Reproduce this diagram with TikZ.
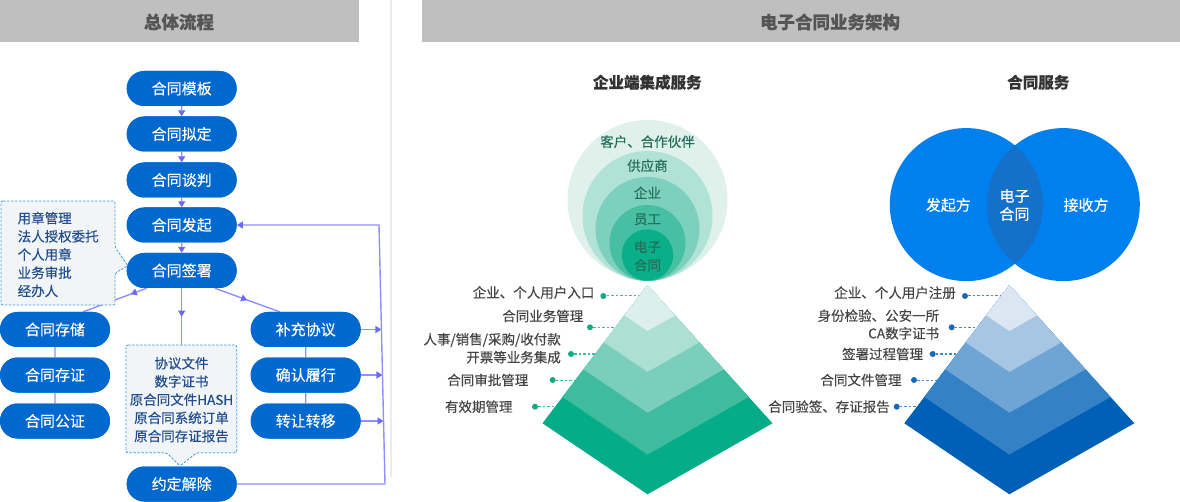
\documentclass[tikz,border=0pt]{standalone}
\usepackage{fontspec}
\setmainfont{Noto Sans CJK SC}[FakeBold=0.35]
\usetikzlibrary{arrows.meta,decorations.markings,calc,shapes.misc}
\definecolor{boxblue}{HTML}{0068CE}
\definecolor{linep}{HTML}{8F8FFF}
\definecolor{tipp}{HTML}{6A6AF2}
\definecolor{headgray}{HTML}{BFBFBF}
\definecolor{headtext}{HTML}{555555}
\definecolor{cofill}{HTML}{F2F5F8}
\definecolor{coline}{HTML}{3D9BDA}
\definecolor{cotext}{HTML}{234E8C}
\definecolor{g1}{HTML}{DDEFEA}
\definecolor{g2}{HTML}{ABE0D3}
\definecolor{g3}{HTML}{7ACEBB}
\definecolor{g4}{HTML}{3FBC9E}
\definecolor{g5}{HTML}{04AD87}
\definecolor{b1}{HTML}{DAE7F2}
\definecolor{b2}{HTML}{A6C6E4}
\definecolor{b3}{HTML}{6FA5D5}
\definecolor{b4}{HTML}{3581C6}
\definecolor{b5}{HTML}{0060B8}
\definecolor{c1}{HTML}{E0F1EC}
\definecolor{c2}{HTML}{B0E2D5}
\definecolor{c3}{HTML}{7DD0BD}
\definecolor{c4}{HTML}{46BFA2}
\definecolor{c5}{HTML}{0AAE89}
\definecolor{ctext}{HTML}{246F5A}
\definecolor{venn}{HTML}{0080EE}
\definecolor{vennmid}{HTML}{1470C8}
\definecolor{labtext}{HTML}{444444}
\definecolor{gdotc}{HTML}{12A985}
\definecolor{gdashc}{HTML}{3DBB9C}
\definecolor{bdotc}{HTML}{1668BA}
\definecolor{bdashc}{HTML}{4A88CC}
\definecolor{divgray}{HTML}{EBEBEB}
\begin{document}
\begin{tikzpicture}[x=1pt,y=-1pt,
  ftip/.tip={Triangle[length=6pt,width=7pt,color=tipp]},
  flowbox/.style={rounded rectangle, fill=boxblue, text=white, minimum width=110pt, minimum height=35pt, inner sep=0pt, font=\fontsize{15}{18}\selectfont},
  conn/.style={draw=linep, line width=1.4pt},
  midarrow/.style={postaction={decorate}, decoration={markings, mark=at position #1 with {\arrow{ftip}}}},
  callout/.style={draw=coline, dash pattern=on 2.5pt off 1.5pt, line width=0.8pt, fill=cofill, rounded corners=2pt},
  cotxt/.style={text=cotext, font=\fontsize{13.5}{18.2}\selectfont, inner sep=0pt},
  headbar/.style={fill=headgray},
  headtxt/.style={text=headtext, font=\fontsize{17.5}{20}\selectfont\bfseries},
  subtitle/.style={text=black!80, font=\fontsize{15.5}{18}\selectfont\bfseries},
  labtxt/.style={text=labtext, font=\fontsize{13.5}{17.6}\selectfont, inner sep=0pt, anchor=east},
  ctxt/.style={text=ctext, font=\fontsize{13.5}{17}\selectfont, inner sep=0pt},
  venntxt/.style={text=white, font=\fontsize{15}{18}\selectfont, inner sep=0pt},
  gdot/.style={circle, fill=gdotc, inner sep=0pt, minimum size=6pt},
  bdot/.style={circle, fill=bdotc, inner sep=0pt, minimum size=6pt},
  gdash/.style={draw=gdashc, line width=1pt, dash pattern=on 2.5pt off 2pt},
  bdash/.style={draw=bdashc, line width=1pt, dash pattern=on 2.5pt off 2pt}]
\useasboundingbox (0,0) rectangle (1180,502);

% ---------- headers ----------
\fill[headbar] (0,0) rectangle (359,42);
\fill[headbar] (422,0) rectangle (1180,42);
\node[headtxt] (h1) at (179,22) {总体流程};
\node[headtxt] (h2) at (830,22) {电子合同业务架构};
\draw[divgray, line width=2pt] (391,0) -- (391,477);

% ---------- flow: coordinates ----------
\coordinate (c2top) at (181.7,345);
\coordinate (busTop) at (379,225);
\coordinate (busBot) at (385,485);

% ---------- flow nodes ----------
\path (181.7,88.5) node[flowbox] (t1) {合同模板}
      (181.7,134) node[flowbox] (t2) {合同拟定}
      (181.7,180) node[flowbox] (t3) {合同谈判}
      (181.7,225) node[flowbox] (t4) {合同发起}
      (181.7,270.5) node[flowbox] (t5) {合同签署}
      (55,329.5) node[flowbox] (s1) {合同存储}
      (55,375) node[flowbox] (s2) {合同存证}
      (55,421) node[flowbox] (s3) {合同公证}
      (305.7,329.5) node[flowbox] (r1) {补充协议}
      (305.7,375) node[flowbox] (r2) {确认履行}
      (305.7,421) node[flowbox] (r3) {转让转移}
      (181.7,484) node[flowbox] (e) {约定解除};

% connectors
\draw[conn,-ftip] (t1) -- (t2);
\draw[conn,-ftip] (t2) -- (t3);
\draw[conn,-ftip] (t3) -- (t4);
\draw[conn,-ftip] (t4) -- (t5);
\draw[conn,midarrow=0.25] ([xshift=-35pt]t5.south) -- ([xshift=28pt]s1.north);
\draw[conn,midarrow=0.5] (t5.south) -- (c2top);
\draw[conn,midarrow=0.5] ([xshift=33pt]t5.south) -- ([xshift=-26pt]r1.north);
\draw[conn] (s1) -- (s2);
\draw[conn] (s2) -- (s3);
\draw[conn] (r1) -- (r2);
\draw[conn] (r2) -- (r3);
\coordinate (bb1) at ($(busTop)!0.4035!(busBot)$);
\coordinate (bb2) at ($(busTop)!0.579!(busBot)$);
\coordinate (bb3) at ($(busTop)!0.757!(busBot)$);
\draw[conn,-ftip] (r1.east) -- (r1.east -| bb1);
\draw[conn,-ftip] (r2.east) -- (r2.east -| bb2);
\draw[conn,-ftip] (r3.east) -- (r3.east -| bb3);
\draw[conn,-ftip] (e.east) -- (e.east -| busBot) -- (busTop) -- (t4.east);

% callouts
\draw[callout] (1,201) -- (115,201) -- (115,247) -- (128,266) -- (115,273) -- (115,305) -- (1,305) -- cycle;
\node[cotxt, align=left, anchor=west] (co1) at (17.5,254.5) {用章管理\\法人授权委托\\个人用章\\业务审批\\经办人};
\draw[callout] (126,345) -- (236.7,345) -- (236.7,452.7) -- (196.7,452.7) -- (180,466) -- (166.7,452.7) -- (126,452.7) -- cycle;
\node[cotxt, align=center] (co2) at (181.5,399.7) {协议文件\\数字证书\\原合同文件HASH\\原合同系统订单\\原合同存证报告};

% boxes on top of connectors and callouts
\foreach \n/\t in {t1/合同模板,t2/合同拟定,t3/合同谈判,t4/合同发起,t5/合同签署,s1/合同存储,s2/合同存证,s3/合同公证,r1/补充协议,r2/确认履行,r3/转让转移,e/约定解除}
  \node[flowbox] at (\n.center) {\t};

% ---------- middle: enterprise integration ----------
\node[subtitle] (st1) at (647.3,82.3) {企业端集成服务};
\fill[c1] (647.5,200) circle[radius=80];
\fill[c2] (647.5,216) circle[radius=65];
\fill[c3] (647.5,229) circle[radius=52];
\fill[c4] (647.5,243) circle[radius=38];
\fill[c5] (647.5,255) circle[radius=25.7];
\node[ctxt] (ct1) at (647.5,141.7) {客户、合作伙伴};
\node[ctxt] (ct2) at (647.5,165.7) {供应商};
\node[ctxt] (ct3) at (647.5,192.7) {企业};
\node[ctxt] (ct4) at (647.5,219.3) {员工};
\node[ctxt, align=center, font=\fontsize{13.5}{18.3}\selectfont] (ct5) at (647.5,256) {电子\\合同};

% labels left pyramid
\node[labtxt] (gl1) at (594.5,292.5) {企业、个人用户入口};
\node[labtxt] (gl2) at (583.5,316) {合同业务管理};
\node[labtxt, align=right, font=\fontsize{13.5}{18}\selectfont] (gl3) at (561,348.3) {人事/销售/采购/收付款\\开票等业务集成};
\node[labtxt] (gl4) at (528.5,380) {合同审批管理};
\node[labtxt] (gl5) at (512.7,406.7) {有效期管理};
\node[gdot] (gd1) at (603.3,296) {};
\node[gdot] (gd2) at (590,327.3) {};
\node[gdot] (gd3) at (571,354) {};
\node[gdot] (gd4) at (552.7,380) {};
\node[gdot] (gd5) at (535,406.7) {};
\foreach \i/\y in {1/296,2/327.3,3/354,4/380,5/406.7}{
  \coordinate (ge\i) at (647,\y);
  \draw[gdash] (gd\i) -- (ge\i);
}
\coordinate (gA) at (647.5,285);
\coordinate (gL) at (542.5,423.3);
\coordinate (gR) at (772.5,423.3);
\coordinate (gB) at (647.5,494.3);
\foreach \s/\c in {1/g5,0.81/g4,0.61/g3,0.415/g2,0.22/g1}
  \fill[\c] (gA) -- ($(gA)!\s!(gL)$) -- ($(gA)!\s!(gB)$) -- ($(gA)!\s!(gR)$) -- cycle;

% ---------- right: contract service ----------
\node[subtitle] (st2) at (1038.3,82.3) {合同服务};
\fill[venn] (966.3,204.6) circle[radius=76.5];
\fill[venn] (1063.3,204.6) circle[radius=76.5];
\begin{scope}
  \clip (966.3,204.6) circle[radius=76.5];
  \fill[vennmid] (1063.3,204.6) circle[radius=76.5];
\end{scope}
\node[venntxt] (v1) at (948.3,205) {发起方};
\node[venntxt] (v2) at (1086,205) {接收方};
\node[venntxt, align=center, font=\fontsize{15}{18}\selectfont] (v3) at (1014.5,205) {电子\\合同};

\node[labtxt] (bl1) at (956,292.7) {企业、个人用户注册};
\node[labtxt, align=right] (bl2) at (939.3,324.5) {身份检验、公安一所\\CA数字证书};
\node[labtxt] (bl3) at (923.3,354) {签署过程管理};
\node[labtxt] (bl4) at (901.7,380) {合同文件管理};
\node[labtxt] (bl5) at (890,406.7) {合同验签、存证报告};
\node[bdot] (bd1) at (965,296) {};
\node[bdot] (bd2) at (951.7,327.3) {};
\node[bdot] (bd3) at (932.7,354) {};
\node[bdot] (bd4) at (914,380) {};
\node[bdot] (bd5) at (896.7,406.7) {};
\foreach \i/\y in {1/296,2/327.3,3/354,4/380,5/406.7}{
  \coordinate (be\i) at (1009,\y);
  \draw[bdash] (bd\i) -- (be\i);
}
\coordinate (bA) at (1009.3,285);
\coordinate (bL) at (904.3,423.3);
\coordinate (bR) at (1134.3,423.3);
\coordinate (bB) at (1009.3,494.3);
\foreach \s/\c in {1/b5,0.81/b4,0.61/b3,0.415/b2,0.22/b1}
  \fill[\c] (bA) -- ($(bA)!\s!(bL)$) -- ($(bA)!\s!(bB)$) -- ($(bA)!\s!(bR)$) -- cycle;
\end{tikzpicture}
\end{document}
